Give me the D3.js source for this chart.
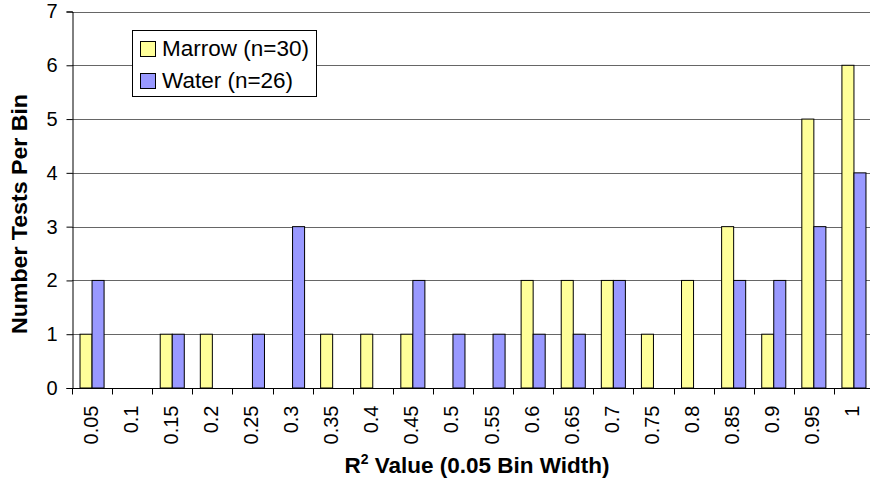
<!DOCTYPE html>
<html>
<head>
<meta charset="utf-8">
<script src="https://cdn.jsdelivr.net/npm/d3@7"></script>
<style>
  html, body { margin: 0; padding: 0; background: #fff; overflow: hidden; }
  svg { display: block; font-family: Arial, "Liberation Sans", sans-serif; }
</style>
</head>
<body>
<svg id="chart" width="870" height="485"></svg>
<script>
// R² histogram bins (0.05 width) and test counts per bin
const bins = ["0.05", "0.1", "0.15", "0.2", "0.25", "0.3", "0.35", "0.4", "0.45", "0.5",
              "0.55", "0.6", "0.65", "0.7", "0.75", "0.8", "0.85", "0.9", "0.95", "1"];
const marrow = [1, 0, 1, 1, 0, 0, 1, 1, 1, 0, 0, 2, 2, 2, 1, 2, 3, 1, 5, 6];
const water  = [2, 0, 1, 0, 1, 3, 0, 0, 2, 1, 1, 1, 1, 2, 0, 0, 2, 2, 3, 4];
const seriesNames = ["Marrow (n=30)", "Water (n=26)"];
const seriesColors = ["#FFFF99", "#9999FF"];
const yTicks = [0, 1, 2, 3, 4, 5, 6, 7];

const svg = d3.select("#chart");
const plotLeft = 72, plotTop = 11.5, plotBottom = 388;
const bandW = 40.1;
const plotRight = plotLeft + bins.length * bandW;

const x = d3.scaleBand().domain(bins).range([plotLeft, plotRight]).paddingInner(0).paddingOuter(0);
const y = d3.scaleLinear().domain([0, 7]).range([plotBottom, plotTop]);
const sub = d3.scaleBand().domain([0, 1]).range([0, x.bandwidth()]).paddingInner(0).paddingOuter(0.6667);

// horizontal gridlines
svg.append("g").selectAll("line").data(yTicks.filter(d => d > 0)).join("line")
  .attr("x1", plotLeft).attr("x2", 870)
  .attr("y1", d => Math.round(y(d)) + 0.5).attr("y2", d => Math.round(y(d)) + 0.5)
  .attr("stroke", "#666").attr("stroke-width", 1);

// bars
[marrow, water].forEach((vals, si) => {
  svg.append("g").selectAll("rect")
    .data(vals.map((v, i) => ({ bin: bins[i], v })).filter(d => d.v > 0))
    .join("rect")
    .attr("x", d => x(d.bin) + sub(si))
    .attr("y", d => y(d.v))
    .attr("width", sub.bandwidth())
    .attr("height", d => y(0) - y(d.v))
    .attr("fill", seriesColors[si])
    .attr("stroke", "#000")
    .attr("stroke-width", 1);
});

// y axis
const yAxis = svg.append("g")
  .attr("transform", `translate(${plotLeft + 0.5},0)`)
  .call(d3.axisLeft(y).tickValues(yTicks).tickFormat(d3.format("d")).tickSizeOuter(0).tickSize(6).tickPadding(9));
yAxis.select(".domain").attr("stroke", "#000");
yAxis.selectAll(".tick line").attr("stroke", "#000");
yAxis.selectAll(".tick text").attr("font-size", 20).attr("fill", "#000")
  .attr("font-family", "Arial, 'Liberation Sans', sans-serif");

// x axis: ticks at bin boundaries, labels rotated
const xg = svg.append("g").attr("transform", `translate(0,${plotBottom + 0.5})`);
xg.append("line").attr("x1", plotLeft).attr("x2", 870).attr("y1", 0).attr("y2", 0).attr("stroke", "#000");
xg.selectAll("line.tk").data(d3.range(bins.length + 1)).join("line").attr("class", "tk")
  .attr("x1", i => Math.round(plotLeft + i * bandW) + 0.5).attr("x2", i => Math.round(plotLeft + i * bandW) + 0.5)
  .attr("y1", 0).attr("y2", 6).attr("stroke", "#000");
xg.selectAll("text").data(bins).join("text")
  .attr("transform", d => `translate(${x(d) + x.bandwidth() / 2 + 5.5},17) rotate(-90)`)
  .attr("text-anchor", "end")
  .attr("font-size", 20)
  .text(d => d);

// axis titles
svg.append("text")
  .attr("transform", "translate(27,214) rotate(-90)")
  .attr("text-anchor", "middle")
  .attr("font-size", 22).attr("font-weight", "bold")
  .attr("textLength", 240).attr("lengthAdjust", "spacingAndGlyphs")
  .text("Number Tests Per Bin");

const xt = svg.append("text")
  .attr("x", 477).attr("y", 473)
  .attr("text-anchor", "middle")
  .attr("font-size", 22.5).attr("font-weight", "bold");
xt.append("tspan").text("R");
xt.append("tspan").attr("font-size", 14).attr("dy", -9).text("2");
xt.append("tspan").attr("dy", 9).text(" Value (0.05 Bin Width)");

// legend
const lg = svg.append("g");
lg.append("rect").attr("x", 132.5).attr("y", 30.5).attr("width", 184).attr("height", 66)
  .attr("fill", "#fff").attr("stroke", "#000");
seriesNames.forEach((name, i) => {
  const cy = 49 + i * 32;
  lg.append("rect").attr("x", 140.5).attr("y", cy - 7.5).attr("width", 15).attr("height", 15)
    .attr("fill", seriesColors[i]).attr("stroke", "#000");
  lg.append("text").attr("x", 162).attr("y", cy + 7).attr("font-size", 22.5).text(name);
});
</script>
</body>
</html>
